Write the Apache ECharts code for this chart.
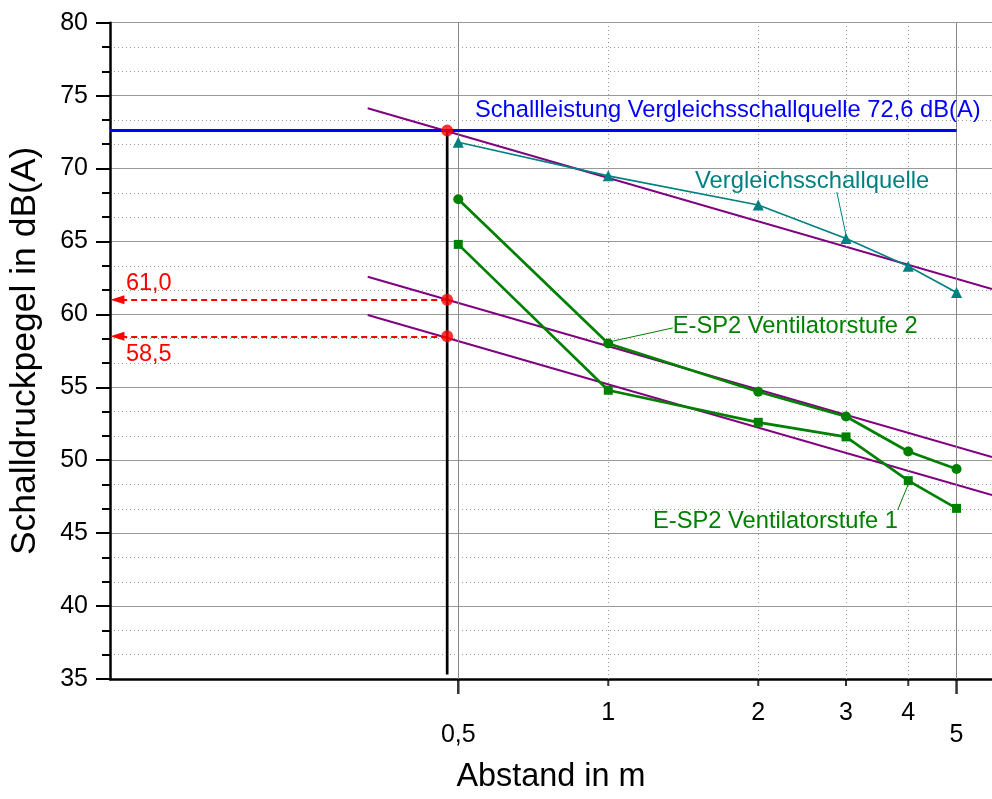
<!DOCTYPE html>
<html><head><meta charset="utf-8">
<script src="https://cdn.jsdelivr.net/npm/echarts@6/dist/echarts.min.js"></script>
<style>html,body{margin:0;padding:0;background:#fff}#chart{width:992px;height:799px}</style>
</head><body><div id="chart"></div>
<script>
// ---- data ----
const distances = [0.5, 1, 2, 3, 4, 5];
const vergleich = [71.8, 69.5, 67.5, 65.2, 63.3, 61.5];
const stufe2 = [67.9, 58.0, 54.7, 53.0, 50.6, 49.4];
const stufe1 = [64.8, 54.8, 52.6, 51.6, 48.6, 46.7];
const fitX = [0.329, 5.89];
const fitVergleich = [74.13, 61.74];
const fitStufe2 = [62.58, 50.22];
const fitStufe1 = [59.96, 47.62];
const readX = 0.475;
const readValues = [72.6, 61.0, 58.5];
const readLabels = ['61,0', '58,5'];
const schallleistung = 72.6;
const xTickValues = [0.5, 1, 2, 3, 4, 5];
const xTickLabels = ['0,5', '1', '2', '3', '4', '5'];
const xLongTicks = [0.5, 5];
const xMin = 0.1, xMax = 5.89;
const yMin = 35, yMax = 80, yStep = 5;
const texts = {
  power: 'Schallleistung Vergleichsschallquelle 72,6 dB(A)',
  vergleich: 'Vergleichsschallquelle',
  stufe2: 'E-SP2 Ventilatorstufe 2',
  stufe1: 'E-SP2 Ventilatorstufe 1',
  xName: 'Abstand in m',
  yName: 'Schalldruckpegel in dB(A)'
};
// annotation anchors (data space)
const powerTextAt = [0.540, 73.95];
const vergleichTextAt = [1.493, 69.15];
const stufe2TextAt = [1.347, 59.14];
const stufe1TextAt = [3.814, 45.77];
const readTextAt = [[0.1076, 62.12], [0.1076, 57.22]];
const vergleichLeader = [[2.875, 68.39], [3, 65.45]];
const stufe2Leader = [[1.347, 59.07], [1, 58.1]];
const stufe1Leader = [[4, 48.35], [3.81, 46.6]];
const arrowEndX = 0.1035;
const vLineBottom = 35.3;

// ---- chart ----
const FONT = 'Liberation Sans, Arial, Helvetica, sans-serif';
const TEAL = '#008080', GREEN = '#008000', PURPLE = '#800080', BLUE = '#0000ff', RED = '#ff0000';
const zip = (xs, ys) => xs.map((x, i) => [x, ys[i]]);

const gridLines = xTickValues.map(v => ({
  xAxis: v,
  lineStyle: xLongTicks.includes(v)
    ? { color: '#888', width: 1, type: 'solid' }
    : { color: '#999', width: 1, type: [1, 3] }
}));

function plainLabel(text, color, size, extra) {
  return Object.assign({
    show: true, formatter: () => text, color: color, fontSize: size, fontFamily: FONT,
    textBorderWidth: 0, textBorderColor: 'transparent', textShadowBlur: 0, opacity: 1
  }, extra || {});
}
function textSeries(name, at, text, color, align, size) {
  return {
    type: 'scatter', name, silent: true, clip: false, z: 20,
    symbolSize: 0.1, itemStyle: { color: 'rgba(0,0,0,0)' },
    data: [at],
    label: plainLabel(text, color, size, {
      position: align === 'left' ? 'right' : 'left', distance: 0,
      align: align, verticalAlign: 'middle'
    })
  };
}
function lineSeries(name, data, color, width, z, extra) {
  return Object.assign({
    type: 'line', name, data, silent: true, symbol: 'none', z: z || 5,
    lineStyle: { color, width }, itemStyle: { color }, animation: false
  }, extra || {});
}

const series = [
  {
    type: 'line', name: 'vgrid', data: [], silent: true, z: 1,
    markLine: { silent: true, symbol: 'none', label: { show: false }, animation: false, data: gridLines }
  },
  lineSeries('fitV', zip(fitX, fitVergleich), PURPLE, 2, 4),
  lineSeries('fit2', zip(fitX, fitStufe2), PURPLE, 2, 4),
  lineSeries('fit1', zip(fitX, fitStufe1), PURPLE, 2, 4),
  lineSeries('Vergleichsschallquelle', zip(distances, vergleich), TEAL, 1.7, 6,
    { symbol: 'triangle', symbolSize: 11, showAllSymbol: true }),
  lineSeries('Stufe 2', zip(distances, stufe2), GREEN, 2.7, 6,
    { symbol: 'circle', symbolSize: 10, showAllSymbol: true }),
  lineSeries('Stufe 1', zip(distances, stufe1), GREEN, 2.7, 6,
    { symbol: 'rect', symbolSize: 9, showAllSymbol: true }),
  lineSeries('Schallleistung', [[xMin, schallleistung], [5, schallleistung]], BLUE, 3, 7),
  lineSeries('vline', [[readX, readValues[0]], [readX, vLineBottom]], '#000', 2.7, 7),
  lineSeries('leaderV', vergleichLeader, TEAL, 1, 6),
  lineSeries('leader2', stufe2Leader, GREEN, 1, 6),
  lineSeries('leader1', stufe1Leader, GREEN, 1, 6),
  {
    type: 'line', name: 'arrows', data: [], silent: true, z: 8,
    markLine: {
      silent: true, animation: false, symbol: ['none', 'triangle'], symbolSize: [9, 14],
      label: { show: false },
      lineStyle: { color: RED, width: 2, type: [6, 4] },
      data: readValues.slice(1).map(v => [{ coord: [readX, v] }, { coord: [arrowEndX, v] }])
    }
  },
  {
    type: 'scatter', name: 'readpoints', silent: true, z: 10, symbol: 'circle', symbolSize: 12,
    itemStyle: { color: RED }, data: readValues.map(v => [readX, v])
  },
  {
    type: 'scatter', name: 'xticks', silent: true, clip: false, z: 10,
    data: xTickValues.map(v => {
      const long = xLongTicks.includes(v);
      return {
        value: [v, yMin], symbol: 'rect',
        symbolSize: long ? [2.5, 15] : [2, 7],
        symbolOffset: long ? [0, 7.5] : [0, 3.5],
        itemStyle: { color: '#000' }
      };
    })
  },
  {
    type: 'scatter', name: 'xlabels', silent: true, clip: false, z: 10,
    symbolSize: 0.1, itemStyle: { color: 'rgba(0,0,0,0)' },
    data: xTickValues.map((v, i) => ({
      value: [v, yMin],
      label: plainLabel(xTickLabels[i], '#000', 25, {
        position: 'inside', align: 'center', verticalAlign: 'middle',
        offset: [0, xLongTicks.includes(v) ? 56 : 34]
      })
    }))
  },
  textSeries('tPower', powerTextAt, texts.power, BLUE, 'left', 23.7),
  textSeries('tV', vergleichTextAt, texts.vergleich, TEAL, 'left', 23.8),
  textSeries('t2', stufe2TextAt, texts.stufe2, GREEN, 'left', 23.7),
  textSeries('t1', stufe1TextAt, texts.stufe1, GREEN, 'right', 23.7),
  textSeries('r1', readTextAt[0], readLabels[0], RED, 'left', 23.5),
  textSeries('r2', readTextAt[1], readLabels[1], RED, 'left', 23.5)
];

const chart = echarts.init(document.getElementById('chart'), null, { renderer: 'canvas' });
chart.setOption({
  animation: false,
  backgroundColor: '#fff',
  textStyle: { fontFamily: FONT },
  grid: { left: 110, right: 0, top: 22.7, bottom: 120, containLabel: false, outerBoundsMode: 'none' },
  xAxis: {
    type: 'log', logBase: 10, min: xMin, max: xMax,
    name: texts.xName, nameLocation: 'middle', nameGap: 82,
    nameTextStyle: { fontSize: 32.4, color: '#000', fontFamily: FONT },
    axisLine: { show: true, onZero: false, lineStyle: { color: '#000', width: 2.5 } },
    axisTick: { show: false }, axisLabel: { show: false },
    splitLine: { show: false }, minorTick: { show: false }, minorSplitLine: { show: false }
  },
  yAxis: {
    type: 'value', min: yMin, max: yMax, interval: yStep,
    name: texts.yName, nameLocation: 'middle', nameGap: 67,
    nameTextStyle: { fontSize: 35.5, color: '#000', fontFamily: FONT },
    axisLine: { show: true, lineStyle: { color: '#000', width: 2.5 } },
    axisTick: { show: true, length: 14, lineStyle: { color: '#000', width: 2 } },
    minorTick: { show: true, splitNumber: 3, length: 8, lineStyle: { color: '#000', width: 2 } },
    axisLabel: { fontSize: 25, color: '#000', margin: 22, fontFamily: FONT },
    splitLine: { show: true, lineStyle: { color: '#999', width: 1 } },
    minorSplitLine: { show: true, lineStyle: { color: '#999', width: 1, type: [1, 3] } }
  },
  series: series
});
</script>
</body></html>
